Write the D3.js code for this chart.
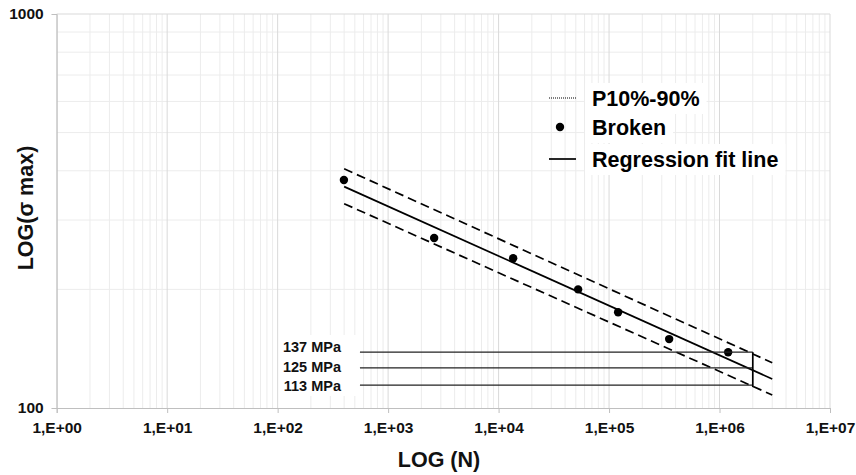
<!DOCTYPE html>
<html>
<head>
<meta charset="utf-8">
<script src="https://cdn.jsdelivr.net/npm/d3@7"></script>
<style>
  body { margin: 0; background: #fff; }
  svg { display: block; font-family: "Liberation Sans", Arial, sans-serif; font-weight: bold; }
</style>
</head>
<body>
<div id="chart"></div>
<script>
// Broken specimens (cycles, max stress in MPa)
const cycles = [398, 2610, 13550, 52500, 120800, 350000, 1197000];
const stress = [379, 270, 240, 200, 175, 149.6, 138.5];

// Regression fit line and the P10% / P90% band (end points)
const fitN = [400, 3.0e6];
const fitS = [364.6, 118.5];
const p90S = [404.6, 130.3];
const p10S = [330, 107.9];

// Stress levels read at 2e6 cycles
const refLabels = ["137 MPa", "125 MPa", "113 MPa"];
const refStress = [137, 125, 113];
const refN = [556, 2e6];

const xTicks = [1, 1e1, 1e2, 1e3, 1e4, 1e5, 1e6, 1e7];
const yTicks = [100, 1000];
const legendLabels = ["P10%-90%", "Broken", "Regression fit line"];

const W = 856, H = 475;
const svg = d3.select("#chart").append("svg").attr("width", W).attr("height", H);

const x = d3.scaleLog().domain([1, 1e7]).range([56.7, 830]);
const y = d3.scaleLog().domain([100, 1000]).range([408, 14]);

// Grid: minor first, then majors on top
const minorX = [];
for (let e = 0; e < 7; e++) for (let k = 2; k <= 9; k++) minorX.push(k * Math.pow(10, e));
const minorY = d3.range(2, 10).map((k) => k * 100);

const grid = svg.append("g");
grid.selectAll(".mx").data(minorX).join("line")
  .attr("x1", (d) => x(d)).attr("x2", (d) => x(d))
  .attr("y1", y(1000)).attr("y2", y(100))
  .attr("stroke", "#ececec").attr("stroke-width", 1);
grid.selectAll(".my").data(minorY).join("line")
  .attr("x1", x(1)).attr("x2", x(1e7))
  .attr("y1", (d) => y(d)).attr("y2", (d) => y(d))
  .attr("stroke", "#ececec").attr("stroke-width", 1);
grid.selectAll(".Mx").data(xTicks).join("line")
  .attr("x1", (d) => x(d)).attr("x2", (d) => x(d))
  .attr("y1", y(1000)).attr("y2", y(100))
  .attr("stroke", "#d9d9d9").attr("stroke-width", 1);
grid.append("line")
  .attr("x1", x(1)).attr("x2", x(1e7))
  .attr("y1", y(1000)).attr("y2", y(1000))
  .attr("stroke", "#d9d9d9");

// Axes
const xAxis = svg.append("g")
  .attr("transform", `translate(0,${y(100)})`)
  .call(d3.axisBottom(x).tickValues(xTicks).tickSize(5).tickPadding(5)
    .tickFormat((d) => "1,E+" + String(Math.round(Math.log10(d))).padStart(2, "0")));
const yAxis = svg.append("g")
  .attr("transform", `translate(${x(1)},0)`)
  .call(d3.axisLeft(y).tickValues(yTicks).tickSize(5).tickPadding(8)
    .tickFormat(d3.format("d")));
[xAxis, yAxis].forEach((g) => {
  g.select(".domain").attr("stroke", "#bfbfbf");
  g.selectAll(".tick line").attr("stroke", "#bfbfbf");
  g.selectAll("text").attr("fill", "#111").attr("font-size", 15.5)
    .attr("font-weight", "bold").attr("font-family", "Liberation Sans, Arial, sans-serif");
});
xAxis.selectAll("text").attr("dy", "0.95em");

// Axis titles
svg.append("text").attr("x", 439).attr("y", 467).attr("text-anchor", "middle")
  .attr("font-size", 21.5).attr("fill", "#111").text("LOG (N)");
svg.append("text").attr("transform", "translate(33,208) rotate(-90)")
  .attr("text-anchor", "middle").attr("font-size", 21.5).attr("fill", "#111")
  .text("LOG(σ max)");

// Band and regression
const line = d3.line().x((d) => x(d[0])).y((d) => y(d[1]));
const plot = svg.append("g");
[p90S, p10S].forEach((s) => {
  plot.append("path").datum(d3.zip(fitN, s)).attr("d", line)
    .attr("fill", "none").attr("stroke", "#000").attr("stroke-width", 1.7)
    .attr("stroke-dasharray", "9,5");
});
plot.append("path").datum(d3.zip(fitN, fitS)).attr("d", line)
  .attr("fill", "none").attr("stroke", "#000").attr("stroke-width", 1.7);

// Reference stress levels at 2e6 cycles
const refG = svg.append("g");
refG.append("rect")
  .attr("x", 279).attr("y", 335)
  .attr("width", 79).attr("height", 61)
  .attr("fill", "#fff");
refG.selectAll(".ref").data(refStress).join("line")
  .attr("x1", x(refN[0])).attr("x2", x(refN[1]))
  .attr("y1", (d) => y(d) - 2).attr("y2", (d) => y(d) - 2)
  .attr("stroke", "#222").attr("stroke-width", 1.2);
refG.append("line")
  .attr("x1", x(refN[1])).attr("x2", x(refN[1]))
  .attr("y1", y(refStress[0]) - 2).attr("y2", y(refStress[2]))
  .attr("stroke", "#000").attr("stroke-width", 1.7);
refG.selectAll(".refl").data(refLabels).join("text")
  .attr("x", 341).attr("y", (d, i) => y(refStress[1]) - 3 + (i - 1) * 19.5)
  .attr("dy", "0.35em").attr("text-anchor", "end")
  .attr("font-size", 14.5).attr("fill", "#111").text((d) => d);

// Broken points
plot.selectAll("circle").data(d3.zip(cycles, stress)).join("circle")
  .attr("cx", (d) => x(d[0])).attr("cy", (d) => y(d[1]))
  .attr("r", 4.2).attr("fill", "#000");

// Legend
const lg = svg.append("g");
const rowY = [98, 127, 159];
legendLabels.forEach((t, i) => {
  const txt = lg.append("text").attr("x", 592).attr("y", rowY[i])
    .attr("dy", "0.35em").attr("font-size", 21.5).attr("fill", "#000").text(t);
  const bb = txt.node().getBBox();
  lg.insert("rect", "text").attr("x", 585).attr("y", rowY[i] - 15)
    .attr("width", bb.width + 14).attr("height", 31).attr("fill", "#fff");
});
lg.append("line").attr("x1", 549).attr("x2", 577).attr("y1", rowY[0]).attr("y2", rowY[0])
  .attr("stroke", "#000").attr("stroke-width", 1).attr("stroke-dasharray", "1,1");
lg.append("circle").attr("cx", 560).attr("cy", rowY[1]).attr("r", 4.2).attr("fill", "#000");
lg.append("line").attr("x1", 549).attr("x2", 576).attr("y1", rowY[2]).attr("y2", rowY[2])
  .attr("stroke", "#000").attr("stroke-width", 1.7);
</script>
</body>
</html>
